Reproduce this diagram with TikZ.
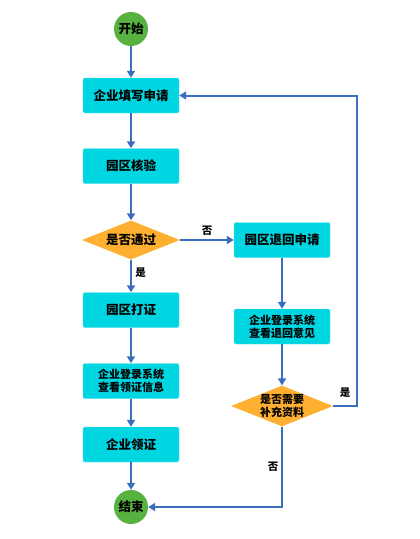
\documentclass[tikz,border=0pt]{standalone}
\usepackage{fontspec}
\newfontfamily\cjk{Noto Sans CJK SC}
\usetikzlibrary{shapes.geometric,arrows.meta}
\definecolor{boxc}{RGB}{0,214,226}
\definecolor{boxb}{RGB}{90,225,235}
\definecolor{diac}{RGB}{255,176,48}
\definecolor{circc}{RGB}{88,178,64}
\definecolor{linec}{RGB}{58,110,190}
\begin{document}
\begin{tikzpicture}[x=1pt,y=-1pt,
  procbox/.style={draw=boxb,fill=boxc,rounded corners=2pt,minimum width=96pt,minimum height=35pt,inner sep=1pt,align=center,font=\cjk\bfseries\fontsize{12.5}{14}\selectfont},
  smallbox/.style={procbox,font=\cjk\bfseries\fontsize{11}{13}\selectfont},
  decision/.style={diamond,aspect=2.5,fill=diac,minimum width=98pt,minimum height=39pt,inner sep=0pt,align=center,font=\cjk\bfseries\fontsize{12.5}{14}\selectfont},
  terminal/.style={circle,fill=circc,minimum size=34pt,inner sep=0pt,font=\cjk\bfseries\fontsize{12.5}{14}\selectfont},
  conn/.style={draw=linec,line width=2pt,-{Triangle[width=8pt,length=7pt]}},
  lbl/.style={font=\cjk\bfseries\fontsize{10.5}{12}\selectfont}]
\useasboundingbox (0,0) rectangle (420,539);
\node[terminal] (start) at (131,29) {开始};
\node[procbox] (apply) at (131,95.5) {企业填写申请};
\node[procbox] (check) at (131,166) {园区核验};
\node[decision] (pass) at (131,240) {是否通过};
\node[procbox] (back) at (282,240) {园区退回申请};
\node[procbox] (print) at (131,310) {园区打证};
\node[smallbox] (view) at (131,381) {企业登录系统\\查看领证信息};
\node[procbox] (get) at (131,444.5) {企业领证};
\node[terminal] (end) at (131,507) {结束};
\node[smallbox] (viewback) at (282,326.5) {企业登录系统\\查看退回意见};
\node[decision,font=\cjk\bfseries\fontsize{11}{13}\selectfont] (need) at (282,406) {是否需要\\补充资料};
\coordinate (tr) at (357,406);
\coordinate (tt) at (357,95.5);
\coordinate (bl) at (282,507);

\draw[conn] (start) -- (apply);
\draw[conn] (apply) -- (check);
\draw[conn] (check) -- (pass);
\draw[conn] (pass) -- node[lbl,above,pos=0.5]{否} (back);
\draw[conn] (pass) -- node[lbl,right,pos=0.4]{是} (print);
\draw[conn] (print) -- (view);
\draw[conn] (view) -- (get);
\draw[conn] (get) -- (end);
\draw[conn] (back) -- (viewback);
\draw[conn] (viewback) -- (need);
\draw[conn] (need.east) -- (tr) -- (tt) -- (apply.east);
\node[lbl] (yes2) at (345,393) {是};
\draw[conn] (need.south) -- (bl) -- (end.east);
\node[lbl] (no2) at (273,467) {否};
\end{tikzpicture}
\end{document}
